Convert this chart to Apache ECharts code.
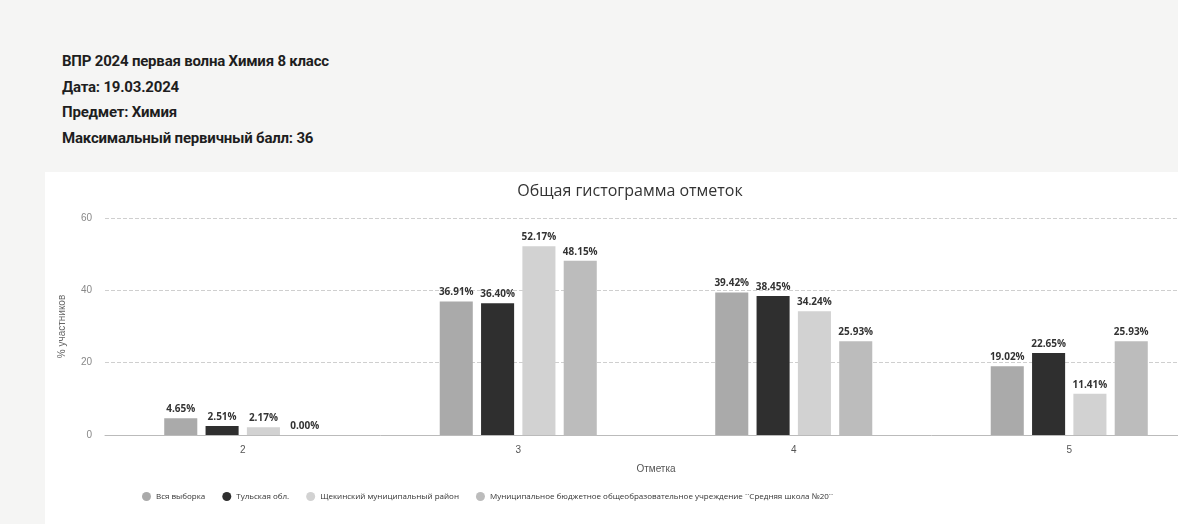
<!DOCTYPE html>
<html><head><meta charset="utf-8">
<script src="https://cdn.jsdelivr.net/npm/echarts@6/dist/echarts.min.js"></script>
<style>
html,body{margin:0;padding:0;width:1178px;height:524px;overflow:hidden;background:#f5f5f4;font-family:Roboto,"Noto Sans",sans-serif;}
#hdr{position:absolute;left:62px;top:52px;color:#1e1e1e;font-weight:bold;font-size:15px;letter-spacing:-0.2px;}
#hdr div{height:25.5px;line-height:19px;}
#card{position:absolute;left:45px;top:172px;width:1170px;height:352px;background:#fff;}
#chart{width:1170px;height:352px;}
</style></head>
<body>
<div id="hdr">
<div>ВПР 2024 первая волна Химия 8 класс</div>
<div>Дата: 19.03.2024</div>
<div>Предмет: Химия</div>
<div>Максимальный первичный балл: 36</div>
</div>
<div id="card"><div id="chart"></div></div>
<script>
const categories = ['2', '3', '4', '5'];
const seriesNames = ['Вся выборка', 'Тульская обл.', 'Щекинский муниципальный район', 'Муниципальное бюджетное общеобразовательное учреждение ``Средняя школа №20``'];
const allSample = [4.65, 36.91, 39.42, 19.02];
const tulaRegion = [2.51, 36.40, 38.45, 22.65];
const shchekinoDistrict = [2.17, 52.17, 34.24, 11.41];
const school20 = [0.00, 48.15, 25.93, 25.93];
const yTicks = [0, 20, 40, 60];
const colors = ['#aaaaaa', '#2f2f2f', '#d2d2d2', '#bcbcbc'];

const seriesData = [allSample, tulaRegion, shchekinoDistrict, school20];
const chart = echarts.init(document.getElementById('chart'));
chart.setOption({
  animation: false,
  title: {text: 'Общая гистограмма отметок', left: 'center', top: 6,
    textStyle: {fontSize: 16, fontWeight: 'normal', color: '#333', fontFamily: '"Open Sans",sans-serif'}},
  color: colors,
  legend: {left: 92, top: 315, itemWidth: 9, itemHeight: 9, itemGap: 17, icon: 'circle',
    textStyle: {fontSize: 8, color: '#333', fontFamily: '"Open Sans",sans-serif'}},
  grid: {left: 60, right: 8, top: 46, bottom: 89},
  xAxis: {type: 'category', data: categories, name: 'Отметка', nameLocation: 'middle', nameGap: 29,
    nameTextStyle: {fontSize: 10, color: '#555'},
    axisLine: {lineStyle: {color: '#bbb'}}, axisTick: {show: false},
    axisLabel: {fontSize: 10, color: '#555', margin: 10}},
  yAxis: {type: 'value', min: yTicks[0], max: yTicks[yTicks.length - 1], interval: 20,
    name: '% участников', nameLocation: 'middle', nameGap: 38, nameRotate: 90,
    nameTextStyle: {fontSize: 10, color: '#666'},
    axisLabel: {fontSize: 10, color: '#888', margin: 13},
    splitLine: {lineStyle: {color: '#cfcfcf', type: 'dashed'}}},
  series: seriesData.map((d, i) => ({
    name: seriesNames[i], type: 'bar', data: d, barGap: '25%', barCategoryGap: '43%',
    label: {show: true, position: 'top', distance: 4, fontSize: 10, fontWeight: 'bold', color: '#333',
      fontFamily: '"Open Sans",sans-serif', formatter: p => p.value.toFixed(2) + '%'}
  }))
});
</script>
</body></html>
